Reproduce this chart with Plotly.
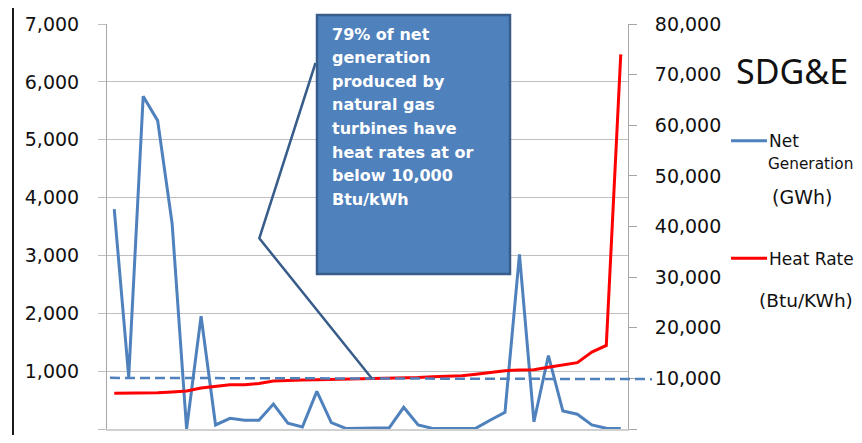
import plotly.graph_objects as go

# ---- data ----
categories = list(range(1, 37))
net_generation_gwh = [3800, 900, 5750, 5330, 3550, 0, 1950, 70, 185, 150, 150, 430,
                      100, 35, 650, 110, 10, 10, 15, 20, 375, 70, 10, 10,
                      10, 15, 155, 290, 3020, 125, 1270, 310, 255, 70, 12, 10]
heat_rate_btu_kwh = [7050, 7050, 7050, 7150, 7300, 7500, 8100, 8500, 8750, 8750, 9000, 9500,
                     9650, 9700, 9750, 9800, 9850, 9900, 9950, 10000, 10050, 10150, 10300, 10400,
                     10500, 10800, 11100, 11500, 11650, 11700, 12200, 12600, 13100, 15200, 16500, 74000]
left_ticks = [0, 1000, 2000, 3000, 4000, 5000, 6000, 7000]
right_ticks = [0, 10000, 20000, 30000, 40000, 50000, 60000, 70000, 80000]
threshold = 10000
callout_lines = ["79% of net", "generation", "produced by", "natural gas",
                 "turbines have", "heat rates at or", "below 10,000", "Btu/kWh"]

# ---- layout geometry (screen pixels; page body has an 8px margin) ----
OFF = 8
SW, SH = 862, 443
W, H = SW - 2 * OFF, SH - 2 * OFF
L, R, T, B = 107, 628, 24, 429


def px(x):
    return (x - L) / (R - L)


def py(y):
    return (B - y) / (B - T)


BLUE = "#4F81BD"
DARK = "#385D8A"
GRID = "#BFBFBF"
FONT = "DejaVu Sans"

fig = go.Figure()
fig.add_trace(go.Scatter(x=categories, y=net_generation_gwh, mode="lines",
                         line=dict(color=BLUE, width=3), name="Net Generation",
                         yaxis="y"))
fig.add_trace(go.Scatter(x=categories, y=heat_rate_btu_kwh, mode="lines",
                         line=dict(color="#FF0000", width=3), name="Heat Rate",
                         yaxis="y2"))

shapes = []
# outer frame
shapes.append(dict(type="rect", xref="paper", yref="paper",
                   x0=px(13), x1=px(880), y0=py(460), y1=py(7),
                   line=dict(color="#1a1a1a", width=2), layer="below"))
# dashed 10,000 reference line
shapes.append(dict(type="line", xref="paper", yref="y2",
                   x0=px(110), x1=px(652), y0=threshold + 100, y1=threshold - 150,
                   line=dict(color=BLUE, width=2.5, dash="10px,5px")))
# callout box
shapes.append(dict(type="rect", xref="paper", yref="paper",
                   x0=px(317), x1=px(510), y0=py(274), y1=py(15),
                   fillcolor=BLUE, line=dict(color=DARK, width=2.5)))
# callout pointer
p = [(315.5, 63), (259.3, 238.3), (371.7, 378.3)]
path = "M {} {} L {} {} L {} {}".format(px(p[0][0]), py(p[0][1]), px(p[1][0]), py(p[1][1]),
                                        px(p[2][0]), py(p[2][1]))
shapes.append(dict(type="path", xref="paper", yref="paper", path=path,
                   line=dict(color=DARK, width=2.5)))
# legend samples
shapes.append(dict(type="line", xref="paper", yref="paper",
                   x0=px(731), x1=px(767), y0=py(140.7), y1=py(140.7),
                   line=dict(color=BLUE, width=3)))
shapes.append(dict(type="line", xref="paper", yref="paper",
                   x0=px(731), x1=px(767), y0=py(258.3), y1=py(258.3),
                   line=dict(color="#FF0000", width=3)))

annotations = []
line_y = [34, 57.5, 81, 105, 128.5, 152, 175.5, 199.5]
for txt, yy in zip(callout_lines, line_y):
    annotations.append(dict(text="<b>" + txt + "</b>", xref="paper", yref="paper",
                            x=px(329.5), y=py(yy), xanchor="left", yanchor="middle",
                            showarrow=False, font=dict(family=FONT, size=16, color="white")))


def label(text, x, y, size, family=FONT):
    annotations.append(dict(text=text, xref="paper", yref="paper", x=px(x), y=py(y),
                            xanchor="left", yanchor="middle", showarrow=False,
                            font=dict(family=family, size=size, color="#111111")))


label("SDG&E", 734, 71, 34, "Noto Sans")
label("Net", 767, 141, 17)
label("Generation", 766, 164, 15.3)
label("(GWh)", 770, 197, 19)
label("Heat Rate", 767, 258.5, 17)
label("(Btu/KWh)", 757, 300.5, 18.5)

fig.update_layout(
    width=W, height=H,
    margin=dict(l=L - OFF, r=(SW - OFF) - R, t=T - OFF, b=(SH - OFF) - B, autoexpand=False),
    paper_bgcolor="white", plot_bgcolor="white",
    showlegend=False,
    xaxis=dict(type="category", range=[-0.5, len(categories) - 0.5],
               showticklabels=False, showgrid=False, zeroline=False,
               showline=True, linecolor="#D0D0D0", linewidth=2, ticks=""),
    yaxis=dict(range=[0, 7000], tickvals=left_ticks, tickformat=",",
               showgrid=True, gridcolor=GRID, gridwidth=1, zeroline=False,
               showline=True, linecolor="#A6A6A6", linewidth=1,
               ticks="outside", ticklen=8, tickcolor=GRID,
               ticklabelstandoff=15,
               tickfont=dict(family=FONT, size=19, color="#111111")),
    yaxis2=dict(range=[0, 80000], tickvals=right_ticks, tickformat=",",
                overlaying="y", side="right", showgrid=False, zeroline=False,
                showline=True, linecolor="#A6A6A6", linewidth=1,
                ticks="outside", ticklen=8, tickcolor="#A6A6A6",
                ticklabelstandoff=14,
                tickfont=dict(family=FONT, size=19, color="#111111")),
    shapes=shapes,
    annotations=annotations,
)

fig.write_html("out.html")
